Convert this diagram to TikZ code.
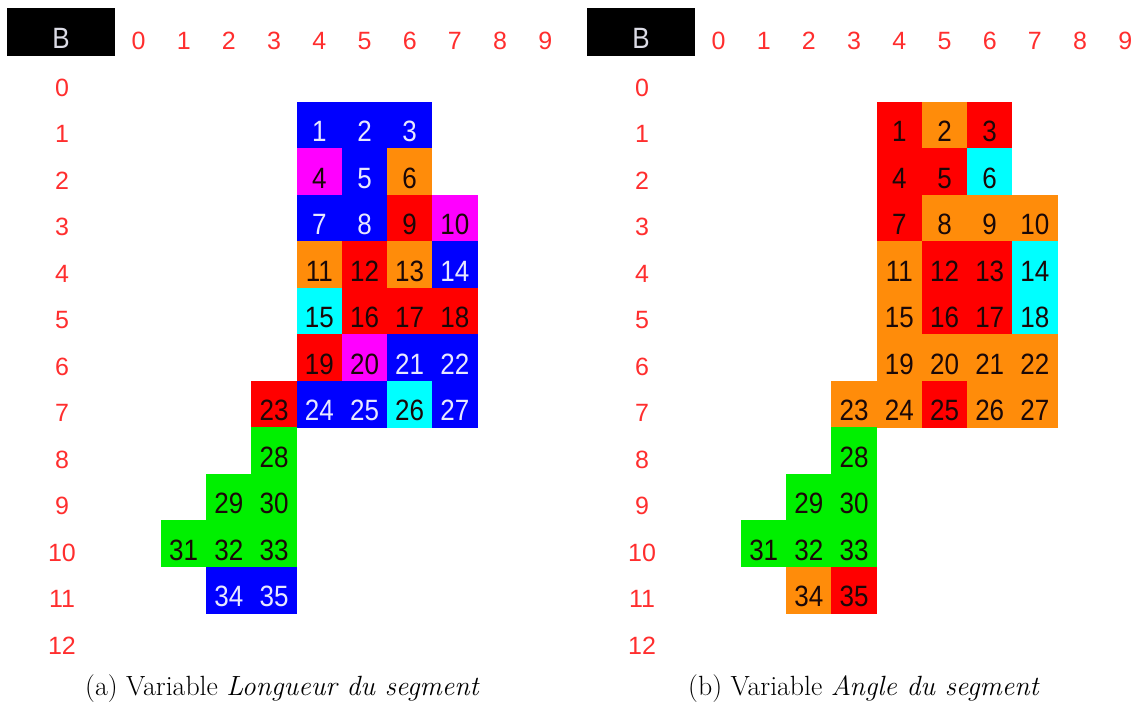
\documentclass[tikz,border=0pt]{standalone}
\usepackage{graphicx}
\usepackage{fontspec}
\newfontfamily\cellfont{Liberation Sans}
\newcommand{\tallnum}[1]{\scalebox{1}[1.13]{#1}}
\definecolor{cblue}{HTML}{0000FF}
\definecolor{cmag}{HTML}{FF00FF}
\definecolor{corange}{HTML}{FF8C0A}
\definecolor{cred}{HTML}{FF0000}
\definecolor{ccyan}{HTML}{00FFFF}
\definecolor{cgreen}{HTML}{00F000}
\definecolor{hdrred}{HTML}{FF2E2E}
\definecolor{lighttext}{HTML}{E8E8FF}
\definecolor{cornertext}{HTML}{DCDCE6}
\definecolor{darktext}{HTML}{1A0808}
\tikzset{
  cellbase/.style={rectangle, inner sep=0pt, minimum width=45.3pt, minimum height=46.6pt,
    font=\cellfont\fontsize{26}{30}\selectfont, text height=34pt, text depth=1pt, text=darktext},
  cB/.style={cellbase, fill=cblue, text=lighttext},
  cM/.style={cellbase, fill=cmag},
  cO/.style={cellbase, fill=corange},
  cR/.style={cellbase, fill=cred},
  cC/.style={cellbase, fill=ccyan},
  cG/.style={cellbase, fill=cgreen},
  hdr/.style={anchor=base, inner sep=0pt, text=hdrred, font=\cellfont\fontsize{25}{30}\selectfont},
  corner/.style={rectangle, fill=black, inner sep=0pt, minimum width=108pt, minimum height=48pt,
    text=cornertext, font=\cellfont\fontsize{26}{30}\selectfont, text height=34pt, text depth=1pt},
  capt/.style={anchor=base, inner sep=0pt, font=\fontsize{27.8}{32}\selectfont}
}
\begin{document}
\begin{tikzpicture}[x=1pt,y=-1pt]
\useasboundingbox (0,0) rectangle (1137,707);
\fill[white] (0,0) rectangle (1137,707);
% headers for both panels
\foreach \p/\dx in {L/0,R/580}{
  \node[corner] (\p B) at ({61+\dx},32) {\tallnum{B}};
  \foreach \c in {0,...,9}{
    \node[hdr] (\p col\c) at ({138.5+45.2*\c+\dx},49.3) {\c};
  }
  \foreach \r in {0,...,12}{
    \node[hdr] (\p row\r) at ({62+\dx},{142.5+46.5*(\r-1)}) {\r};
  }
}
% left panel: Longueur du segment
\foreach \c/\r/\n/\s in {
  4/1/1/cB,5/1/2/cB,6/1/3/cB,
  4/2/4/cM,5/2/5/cB,6/2/6/cO,
  4/3/7/cB,5/3/8/cB,6/3/9/cR,7/3/10/cM,
  4/4/11/cO,5/4/12/cR,6/4/13/cO,7/4/14/cB,
  4/5/15/cC,5/5/16/cR,6/5/17/cR,7/5/18/cR,
  4/6/19/cR,5/6/20/cM,6/6/21/cB,7/6/22/cB,
  3/7/23/cR,4/7/24/cB,5/7/25/cB,6/7/26/cC,7/7/27/cB,
  3/8/28/cG,
  2/9/29/cG,3/9/30/cG,
  1/10/31/cG,2/10/32/cG,3/10/33/cG,
  2/11/34/cB,3/11/35/cB}{
  \node[\s] (La\n) at ({138.5+45.2*\c},{125.25+46.5*(\r-1)}) {\tallnum{\n}};
}
% right panel: Angle du segment
\foreach \c/\r/\n/\s in {
  4/1/1/cR,5/1/2/cO,6/1/3/cR,
  4/2/4/cR,5/2/5/cR,6/2/6/cC,
  4/3/7/cR,5/3/8/cO,6/3/9/cO,7/3/10/cO,
  4/4/11/cO,5/4/12/cR,6/4/13/cR,7/4/14/cC,
  4/5/15/cO,5/5/16/cR,6/5/17/cR,7/5/18/cC,
  4/6/19/cO,5/6/20/cO,6/6/21/cO,7/6/22/cO,
  3/7/23/cO,4/7/24/cO,5/7/25/cR,6/7/26/cO,7/7/27/cO,
  3/8/28/cG,
  2/9/29/cG,3/9/30/cG,
  1/10/31/cG,2/10/32/cG,3/10/33/cG,
  2/11/34/cO,3/11/35/cR}{
  \node[\s] (Rb\n) at ({138.5+45.2*\c+580},{125.25+46.5*(\r-1)}) {\tallnum{\n}};
}
\node[capt] (capa) at (282.5,695) {(a) Variable \textit{Longueur du segment}};
\node[capt] (capb) at (864,695) {(b) Variable \textit{Angle du segment}};
\end{tikzpicture}
\end{document}
